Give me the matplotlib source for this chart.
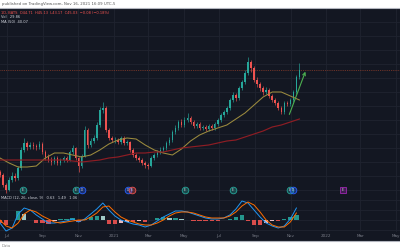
import numpy as np
import pandas as pd
import matplotlib
matplotlib.use("Agg")
import matplotlib.pyplot as plt
import matplotlib.dates as mdates
from matplotlib.lines import Line2D

# ---------------- data ----------------
opens = [24.6, 24.0, 22.0, 21.0, 23.0, 23.8, 23.4, 25.4, 29.0, 30.4,
         29.6, 30.0, 29.8, 29.6, 30.2, 28.6, 27.6, 27.0, 26.6, 27.4,
         26.4, 27.0, 27.4, 27.0, 28.6, 29.4, 27.4, 25.8, 27.8, 33.0,
         30.0, 30.8, 31.4, 34.0, 37.0, 37.4, 33.0, 31.4, 31.0, 31.0,
         30.6, 31.4, 30.4, 30.6, 29.0, 28.0, 27.4, 27.0, 26.4, 26.0,
         25.8, 27.4, 28.0, 28.6, 29.0, 29.4, 30.4, 31.0, 32.6, 33.4,
         34.6, 34.0, 35.0, 35.4, 34.6, 33.8, 34.2, 33.4, 33.6, 33.2,
         33.8, 33.4, 34.2, 35.0, 36.0, 36.6, 37.4, 39.0, 40.0, 39.4,
         41.4, 42.6, 44.4, 46.6, 45.4, 43.0, 42.2, 41.4, 40.6, 41.0,
         39.8, 39.0, 38.4, 37.4, 36.6, 38.4, 38.2, 39.0, 40.6, 43.6]
highs = [25.0, 24.4, 22.4, 23.6, 24.6, 24.4, 25.8, 29.6, 31.4, 30.8,
         30.6, 30.6, 30.2, 30.8, 30.6, 29.0, 28.2, 27.6, 27.8, 27.8,
         27.4, 27.8, 27.8, 29.0, 30.0, 29.6, 27.6, 28.2, 33.8, 33.4,
         31.4, 32.0, 34.6, 37.6, 38.6, 37.8, 33.4, 31.8, 31.6, 31.4,
         31.8, 31.8, 31.0, 30.8, 29.4, 28.4, 27.8, 27.4, 26.8, 26.4,
         27.8, 28.4, 29.0, 29.6, 29.8, 30.8, 31.6, 33.0, 34.0, 35.0,
         35.2, 35.6, 36.4, 35.8, 35.0, 34.6, 34.6, 34.0, 34.0, 34.2,
         34.2, 34.6, 35.4, 36.4, 37.0, 37.8, 39.4, 40.6, 40.4, 41.8,
         43.0, 45.0, 47.6, 47.0, 45.8, 43.6, 42.6, 41.8, 41.6, 41.4,
         40.2, 39.4, 38.8, 37.8, 38.8, 38.8, 39.4, 41.0, 44.0, 46.4]
lows = [23.6, 21.6, 20.4, 20.8, 22.6, 22.8, 23.0, 25.0, 28.6, 29.0,
        29.2, 29.2, 29.0, 29.2, 28.2, 27.0, 26.6, 26.0, 26.2, 26.0,
        26.0, 26.6, 26.6, 26.8, 28.2, 27.0, 24.6, 25.4, 27.6, 29.4,
        29.6, 30.4, 31.0, 33.6, 36.4, 32.6, 31.0, 30.6, 30.4, 30.2,
        30.2, 30.0, 30.0, 28.6, 27.6, 27.0, 26.6, 26.0, 25.4, 25.2,
        25.6, 27.0, 27.6, 28.2, 28.6, 29.0, 30.0, 30.6, 32.2, 33.0,
        33.6, 33.6, 34.6, 34.2, 33.4, 33.4, 33.0, 33.0, 32.8, 32.8,
        33.0, 33.0, 33.8, 34.6, 35.6, 36.2, 37.0, 38.6, 38.8, 39.0,
        41.0, 42.2, 44.0, 44.6, 42.6, 41.6, 40.8, 40.0, 40.2, 39.4,
        38.6, 38.0, 37.0, 36.2, 36.2, 37.8, 37.8, 38.6, 40.2, 43.2]
closes = [24.0, 22.0, 21.0, 23.0, 23.8, 23.4, 25.4, 29.0, 30.4, 29.6,
          30.0, 29.8, 29.6, 30.2, 28.6, 27.6, 27.0, 26.6, 27.4, 26.4,
          27.0, 27.4, 27.0, 28.6, 29.4, 27.4, 25.8, 27.8, 33.0, 30.0,
          30.8, 31.4, 34.0, 37.0, 37.4, 33.0, 31.4, 31.0, 31.0, 30.6,
          31.4, 30.4, 30.6, 29.0, 28.0, 27.4, 27.0, 26.4, 26.0, 25.8,
          27.4, 28.0, 28.6, 29.0, 29.4, 30.4, 31.0, 32.6, 33.4, 34.6,
          34.0, 35.0, 35.4, 34.6, 33.8, 34.2, 33.4, 33.6, 33.2, 33.8,
          33.4, 34.2, 35.0, 36.0, 36.6, 37.4, 39.0, 40.0, 39.4, 41.4,
          42.6, 44.4, 46.6, 45.4, 43.0, 42.2, 41.4, 40.6, 41.0, 39.8,
          39.0, 38.4, 37.4, 36.6, 38.4, 38.2, 39.0, 40.6, 43.6, 45.0]

# moving averages, sampled every 3rd bar
ma50 = [27.4, 26.4, 25.6, 25.6, 25.8, 27.4, 28.4, 28.4, 28.0, 27.6,
        28.0, 29.0, 30.2, 31.0, 31.4, 31.2, 30.0, 29.0, 28.4, 28.0,
        29.2, 30.8, 32.0, 32.8, 33.4, 34.0, 35.2, 36.4, 38.0, 39.6,
        40.6, 40.6, 39.8, 39.0]
ma200 = [27.0, 27.0, 27.0, 27.0, 27.0, 27.0, 27.0, 27.0, 26.8, 26.6,
         26.8, 27.0, 27.4, 27.6, 28.0, 28.4, 28.4, 28.6, 28.6, 29.0,
         29.4, 29.6, 29.8, 30.0, 30.4, 30.8, 31.0, 31.6, 32.2, 32.8,
         33.6, 34.0, 34.6, 35.2]

# MACD (12, 26, 9), sampled every 2nd bar
macd = [-0.3, -1.1, -0.8, 0.6, 1.2, 1.0, 0.5, 0.1, -0.3, -0.3,
        -0.2, -0.1, 0.1, -0.2, 0.1, 0.6, 1.1, 1.7, 1.0, 0.4,
        0.0, -0.2, -0.4, -0.5, -0.7, -0.5, -0.1, 0.3, 0.6, 0.9,
        0.9, 0.8, 0.6, 0.4, 0.2, 0.1, 0.1, 0.2, 0.5, 1.1,
        1.9, 1.7, 1.0, 0.3, -0.3, -0.6, -0.8, -0.6, 0.1, 1.2]
signal = [0.0, -0.6, -0.8, -0.3, 0.6, 1.0, 0.8, 0.4, 0.1, -0.2,
          -0.3, -0.2, -0.1, 0.0, 0.0, 0.3, 0.7, 1.3, 1.4, 0.8,
          0.3, 0.0, -0.2, -0.4, -0.5, -0.5, -0.3, 0.0, 0.4, 0.7,
          0.8, 0.8, 0.7, 0.5, 0.3, 0.2, 0.2, 0.2, 0.4, 0.8,
          1.4, 1.8, 1.5, 0.8, 0.0, -0.5, -0.7, -0.7, -0.2, 0.7]

month_ticks = ["2020-07-01", "2020-09-01", "2020-11-01", "2021-01-01", "2021-03-01", "2021-05-01",
               "2021-07-01", "2021-09-01", "2021-11-01", "2022-01-01", "2022-03-01", "2022-05-01"]
month_labels = ["Jul", "Sep", "Nov", "2021", "Mar", "May", "Jul", "Sep", "Nov", "2022", "Mar", "May"]

# earnings / dividend markers
event_dates = ["2020-07-28", "2020-10-27", "2020-11-07", "2021-01-25", "2021-02-01",
               "2021-05-03", "2021-07-25", "2021-10-31", "2021-11-05", "2022-01-30"]
event_kind = ["E", "E", "D", "D", "E", "E", "E", "E", "D", "E"]
event_color = ["#26a69a", "#26a69a", "#2962ff", "#2962ff", "#ef5350",
               "#26a69a", "#26a69a", "#26a69a", "#2962ff", "#9c27b0"]

last_price = 45.0
arrow_start = ("2021-10-28", 35.6)
arrow_end = ("2021-11-28", 45.2)

# ---------------- layout ----------------
W, H = 400, 250
BG = "#131722"
GRID = "#1f2330"
TXT = "#787b86"

def box(top, bottom, left=0, right=W):
    return [left / W, 1 - bottom / H, (right - left) / W, (bottom - top) / H]

bar_dates = mdates.date2num(pd.date_range("2020-06-19", "2021-11-16", periods=len(closes)))
ma_dates = bar_dates[::3]
macd_dates = bar_dates[::2]
tick_pos = mdates.date2num(pd.to_datetime(month_ticks))
x0, x1 = mdates.date2num(pd.Timestamp("2020-06-19")), mdates.date2num(pd.Timestamp("2022-05-08"))

fig = plt.figure(figsize=(4, 2.5), dpi=100, facecolor="white")

panel = fig.add_axes(box(8, 241))
panel.set_facecolor(BG)
panel.set_xticks([])
panel.set_yticks([])
for s in panel.spines.values():
    s.set_visible(False)

ax = fig.add_axes(box(8, 195))
ax.set_facecolor(BG)
ax.set_xlim(x0, x1)
ax.set_ylim(20.0, 57.4)
ax.set_xticks(tick_pos)
ax.set_yticks(np.arange(21.0, 57.4, 2.8))
ax.grid(True, color=GRID, linewidth=0.6)
ax.tick_params(length=0, labelbottom=False, labelleft=False)
for s in ax.spines.values():
    s.set_visible(False)

# candles
o = np.array(opens); c = np.array(closes)
up = c >= o
cols = np.where(up, "#26a69a", "#ef5350")
ax.vlines(bar_dates, lows, highs, colors=cols, linewidth=0.45, zorder=3)
ax.bar(bar_dates, np.abs(c - o) + 0.12, bottom=np.minimum(o, c) - 0.06, width=2.6,
       color=cols, linewidth=0, zorder=4)

ax.plot(ma_dates, ma50, color="#9c8b3e", linewidth=0.75, zorder=5)
ax.plot(ma_dates, ma200, color="#8e1d24", linewidth=0.85, zorder=5)
ax.axhline(last_price, color="#a8452c", linewidth=0.6, linestyle=(0, (1, 1.2)), alpha=0.8, zorder=2)

ax.annotate("", xy=(mdates.date2num(pd.Timestamp(arrow_end[0])), arrow_end[1]),
            xytext=(mdates.date2num(pd.Timestamp(arrow_start[0])), arrow_start[1]),
            arrowprops=dict(arrowstyle="->", color="#4caf50", lw=0.8, mutation_scale=5), zorder=6)

# event markers
ev_x = mdates.date2num(pd.to_datetime(event_dates))
for x, k, col in zip(ev_x, event_kind, event_color):
    mk = "s" if col == "#9c27b0" else "o"
    ax.plot(x, 21.0, marker=mk, markersize=4.8, markerfacecolor=col + "55",
            markeredgecolor=col, markeredgewidth=0.6, zorder=7)
    ax.text(x, 21.0, k, color="#d1d4dc", fontsize=2.2, ha="center", va="center", zorder=8)

# legends
ax.text(0.003, 0.985, "1D, BATS  O44.71  H45.13  L43.17  C45.03  \u22120.08 (\u22120.18%)",
        transform=ax.transAxes, fontsize=2.6, color="#ef5350", va="top", ha="left")
ax.text(0.003, 0.96, "Vol   29.86", transform=ax.transAxes, fontsize=2.6, color="#d1d4dc", va="top")
ax.text(0.003, 0.935, "MA (50)  40.07", transform=ax.transAxes, fontsize=2.6, color="#d1d4dc", va="top")

# MACD pane
mx = fig.add_axes(box(195, 232))
mx.set_facecolor(BG)
mx.set_xlim(x0, x1)
mx.set_ylim(-1.2, 2.5)
mx.set_xticks(tick_pos)
mx.set_yticks([-1.0, 0.0, 1.0, 2.0])
mx.grid(True, color=GRID, linewidth=0.6)
mx.tick_params(length=0, labelleft=False, labelbottom=True, labelsize=3, colors=TXT, pad=1.5)
mx.set_xticklabels(month_labels)
for s in mx.spines.values():
    s.set_visible(False)

hist = np.array(macd) - np.array(signal)
hcols = []
for i, h in enumerate(hist):
    prev = hist[i - 1] if i else 0
    if h >= 0:
        hcols.append("#26a69a" if h >= prev else "#b2dfdb")
    else:
        hcols.append("#ffcdd2" if h > prev else "#ef5350")
mx.bar(macd_dates, hist, width=7.5, color=hcols, linewidth=0, alpha=0.9, zorder=3)
mx.plot(macd_dates, macd, color="#2196f3", linewidth=0.7, zorder=4)
mx.plot(macd_dates, signal, color="#ff6d00", linewidth=0.7, zorder=4)
mx.text(0.003, 0.97, "MACD (12, 26, close, 9)   0.63   1.49   1.06", transform=mx.transAxes,
        fontsize=2.6, color="#d1d4dc", va="top")

# frame lines and the watermark strips
fig.add_artist(Line2D([0, 1], [1 - 8 / H, 1 - 8 / H], color="#b2b5be", linewidth=0.8))
fig.add_artist(Line2D([0, 1], [1 - 241 / H, 1 - 241 / H], color="#b2b5be", linewidth=0.8))
fig.text(2 / W, 1 - 4 / H, "published on TradingView.com, Nov 16, 2021 16:09 UTC-5",
         fontsize=2.8, color="#555555", va="center")
fig.text(2 / W, 1 - 246 / H, "Data", fontsize=2.8, color="#888888", va="center")

fig.savefig("out.png", dpi=100, facecolor="white")
